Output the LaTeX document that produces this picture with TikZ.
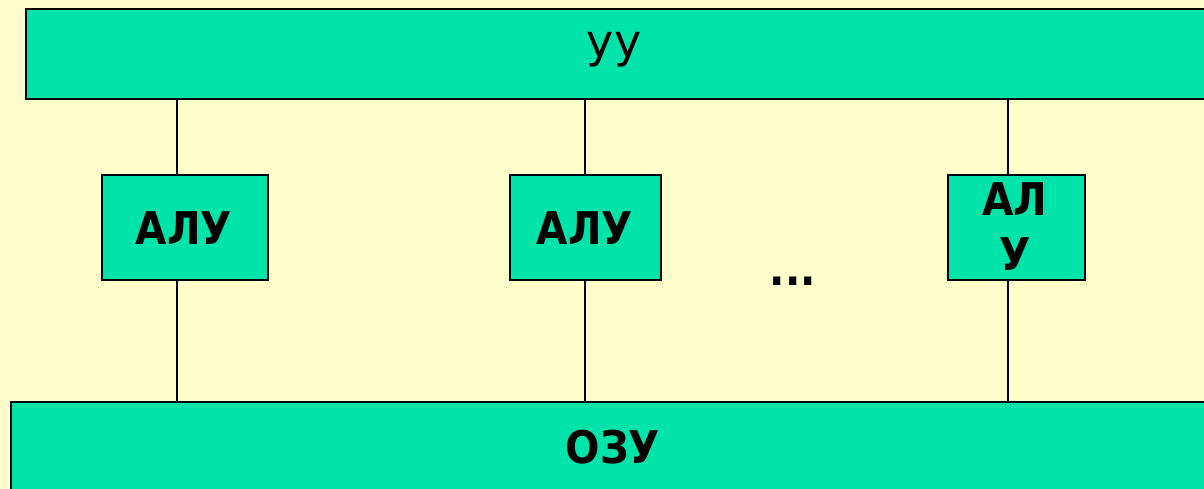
\documentclass[tikz,border=0pt]{standalone}
\usepackage{fontspec}
\setmainfont{DejaVu Sans}
\newfontfamily\condfont{DejaVu Sans Condensed}
\definecolor{bg}{RGB}{255,255,204}
\definecolor{boxc}{RGB}{0,228,170}
\begin{document}
\begin{tikzpicture}[x=1pt,y=-1pt,
  blk/.style={draw=black,line width=2pt,fill=boxc,inner sep=0pt,anchor=north west},
  lbl/.style={font=\fontsize{45}{55}\selectfont\condfont\bfseries,align=center,inner sep=0pt},
  wire/.style={draw=black,line width=1.5pt}]
\useasboundingbox (0,0) rectangle (1204,489);
\fill[bg] (0,0) rectangle (1204,489);
\clip (0,0) rectangle (1204,489);
\node[blk,minimum width=1200pt,minimum height=90pt] (uu) at (25,8) {};
\node at (614,50) [font=\fontsize{46}{52}\selectfont,inner sep=0pt] (uut) {уу};
\node[blk,minimum width=1220pt,minimum height=100pt] (ozu) at (10,401) {};
\node at (613,447) [lbl] (ozut) {ОЗУ};
\node[blk,minimum width=166pt,minimum height=105pt] (a1) at (101,174) {};
\node at (184,228) [lbl] (a1t) {АЛУ};
\node[blk,minimum width=151pt,minimum height=105pt] (a2) at (509,174) {};
\node at (585,228) [lbl] (a2t) {АЛУ};
\node[blk,minimum width=137pt,minimum height=105pt] (a3) at (947,174) {};
\node at (1015,227) [lbl] (a3t) {АЛ\\У};
\node at (793,281) [lbl] (dots) {...};
\coordinate (c1) at (177,0);
\coordinate (c2) at (585,0);
\coordinate (c3) at (1008,0);
\draw[wire] (uu.south -| c1) -- (a1.north -| c1);
\draw[wire] (a1.south -| c1) -- (ozu.north -| c1);
\draw[wire] (uu.south -| c2) -- (a2.north -| c2);
\draw[wire] (a2.south -| c2) -- (ozu.north -| c2);
\draw[wire] (uu.south -| c3) -- (a3.north -| c3);
\draw[wire] (a3.south -| c3) -- (ozu.north -| c3);
\end{tikzpicture}
\end{document}
